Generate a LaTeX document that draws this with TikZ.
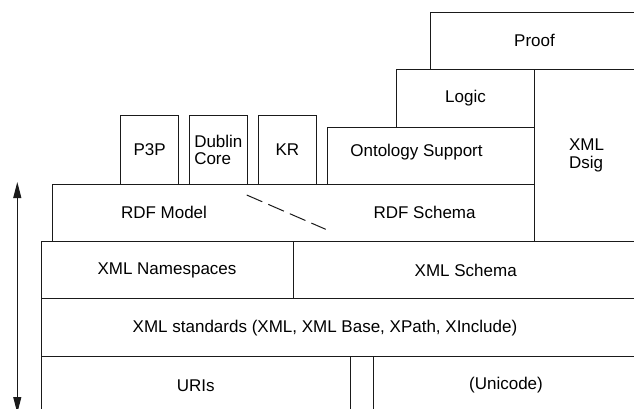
\documentclass[tikz,border=0pt]{standalone}
\usepackage{fontspec}
\setmainfont{Liberation Sans}
\usepackage{tikz}
\usetikzlibrary{arrows.meta, positioning}
\definecolor{lineblack}{HTML}{1A1A1A}

\begin{document}
\begin{tikzpicture}[
    x=1pt, y=-1pt,
    layer/.style={rectangle, draw=lineblack, line width=1pt, inner sep=0pt, anchor=north west, minimum width=#1},
    layer/.default=100pt,
    txt/.style={font=\fontsize{17}{17.6}\selectfont, inner sep=0pt},
    arrow/.style={{Triangle[length=16pt, width=8pt]}-{Triangle[length=16pt, width=8pt]}, line width=1pt, color=lineblack}
]
\useasboundingbox (0,0) rectangle (634,409);
\clip (0,0) rectangle (634,409);

% Top of the stack
\node[layer=208pt, minimum height=57.3pt, txt] (proof) at (430,11.7) {Proof};
\node[layer=138pt, minimum height=57.7pt, txt] (logic) at (396,69) {Logic};
\node[layer=104pt, minimum height=171.7pt, txt, align=left] (dsig) at (534,69) {XML\\Dsig};
\node[layer=206.7pt, minimum height=57pt] (onto) at (327.3,126.7) {};
\node[txt] (ontotext) at (416.5,151.7) {Ontology Support};

% Vocabularies
\node[layer=58.3pt, minimum height=68.7pt, txt] (ppp) at (120,115) {P3P};
\node[layer=57.7pt, minimum height=68.7pt, txt, align=left] (dublin) at (189,115) {Dublin\\Core};
\node[layer=57.7pt, minimum height=68.7pt, txt] (kr) at (258,115) {KR};

% RDF layer
\node[layer=482pt, minimum height=57pt] (rdf) at (52,183.7) {};
\node[txt] (rdfmodel) at (164,212.7) {RDF Model};
\node[txt] (rdfschema) at (424.6,212.7) {RDF Schema};
\coordinate (splitA) at (246.7,195);
\coordinate (splitB) at (325.7,229.3);
\draw[lineblack, line width=1pt, dash pattern=on 17pt off 6.5pt] (splitA) -- (splitB);

% XML layers
\node[layer=252pt, minimum height=57.6pt, txt] (ns) at (40.5,240.7) {XML Namespaces};
\node[layer=345.5pt, minimum height=57.6pt, txt] (xsd) at (292.5,240.7) {XML Schema};
\node[layer=597.5pt, minimum height=57.4pt] (std) at (40.5,298.3) {};
\node[txt] (stdtext) at (325,328) {XML standards (XML, XML Base, XPath, XInclude)};

% Base
\node[layer=309.5pt, minimum height=58.3pt, txt] (uri) at (40.5,355.7) {URIs};
\node[layer=23pt, minimum height=58.3pt] (gap) at (350,355.7) {};
\node[layer=265pt, minimum height=58.3pt, txt] (uni) at (373,355.7) {(Unicode)};

\coordinate (atop) at (17.3,182);
\coordinate (abot) at (17.3,413);
\draw[arrow] (atop) -- (abot);

\end{tikzpicture}
\end{document}
